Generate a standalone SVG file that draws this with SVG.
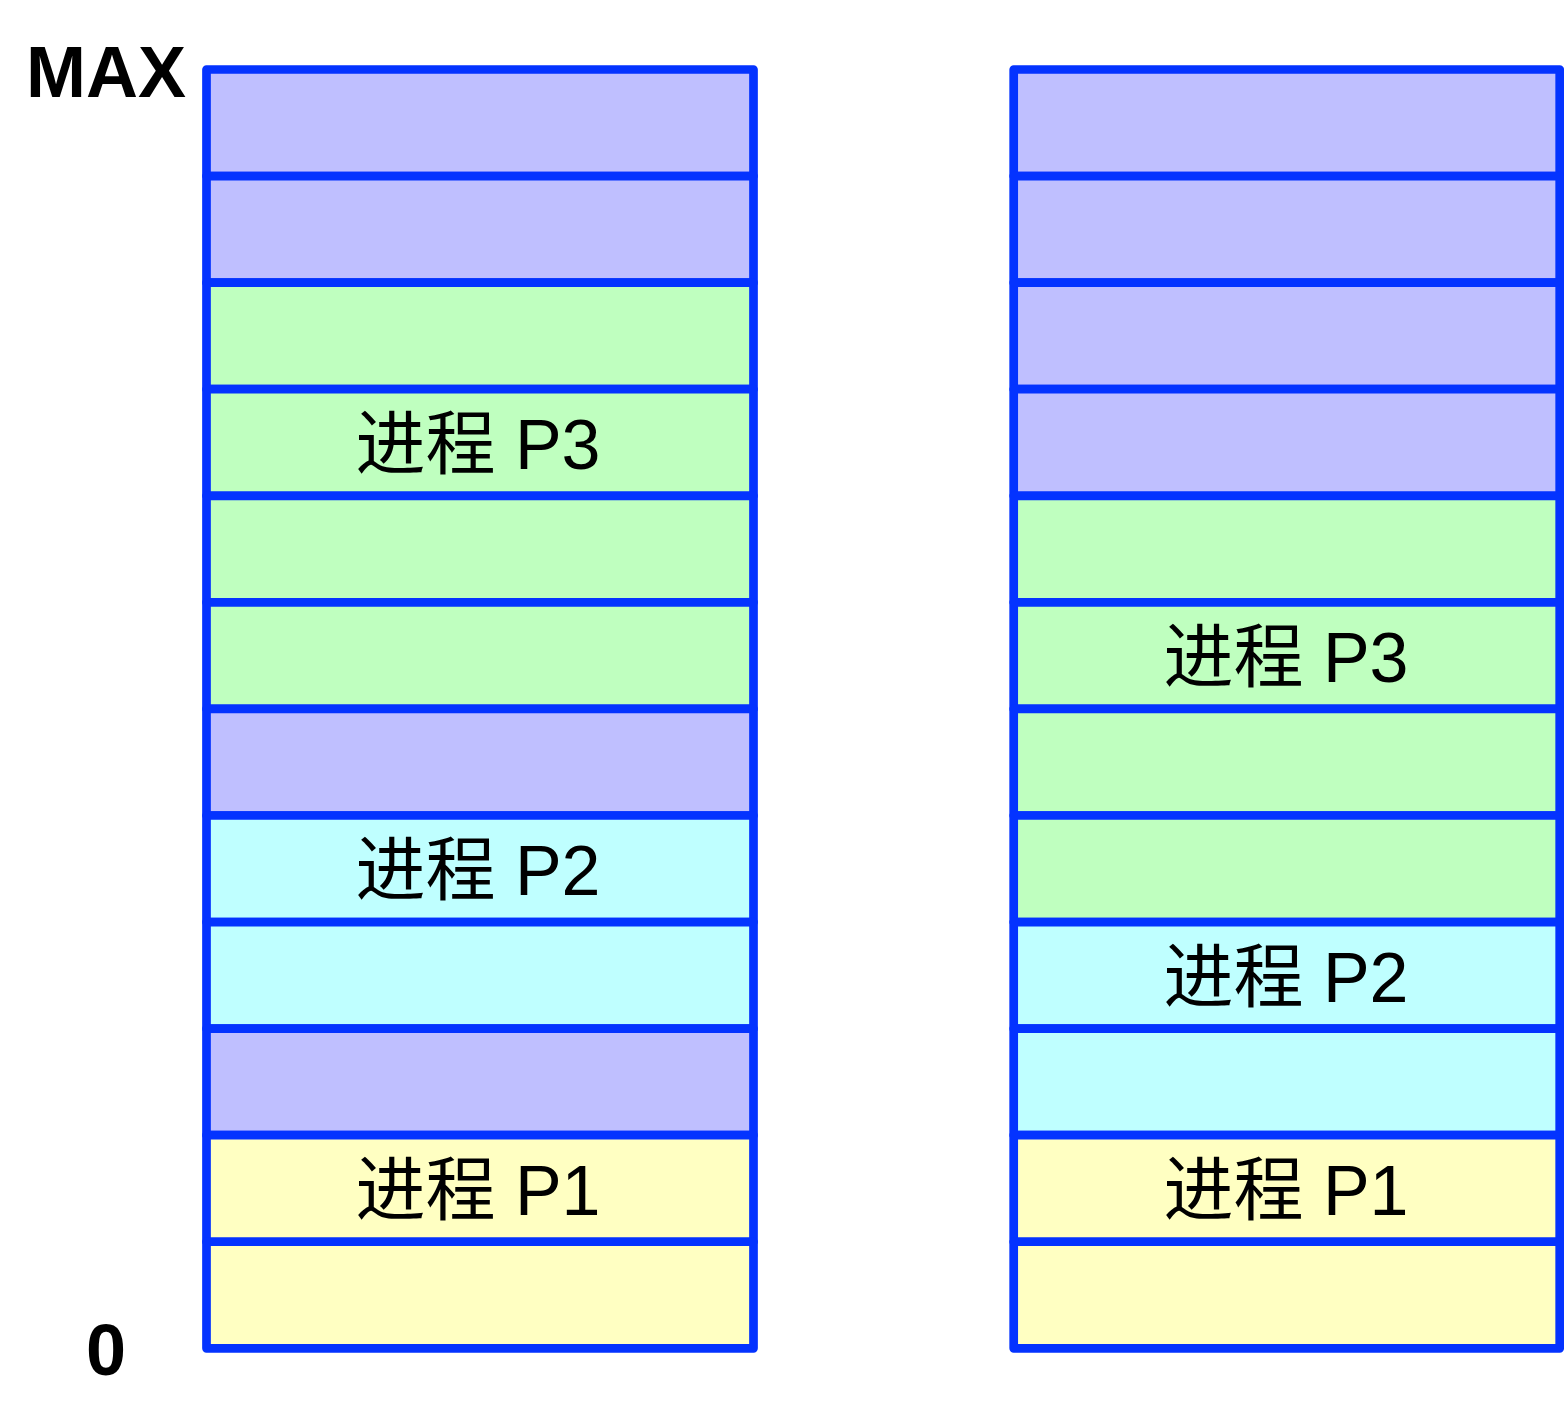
<svg xmlns="http://www.w3.org/2000/svg" width="1564" height="1413" viewBox="0 0 1564 1413">
<style>
.c{stroke:#0433FF;stroke-width:8.7;stroke-linejoin:round}
.v{fill:#BFBFFF}.g{fill:#BFFFBF}.y{fill:#FFFFC2}.k{fill:#BFFFFF}
.t{font-family:"Liberation Sans","Noto Sans CJK SC",sans-serif;font-size:70px;text-anchor:middle;fill:#000}
.b{font-family:"Liberation Sans",Arial,sans-serif;font-size:72px;font-weight:bold;fill:#000}
</style>
<rect width="1564" height="1413" fill="#fff"/>
<text class="b" x="186" y="97" text-anchor="end">MAX</text>
<text class="b" x="106" y="1375" text-anchor="middle">0</text>
<g id="left">
<g id="L1"><rect class="c v" x="206.5" y="69.5" width="547" height="106.57"/></g>
<g id="L2"><rect class="c v" x="206.5" y="176.07" width="547" height="106.57"/></g>
<g id="L3"><rect class="c g" x="206.5" y="282.64" width="547" height="106.57"/></g>
<g id="L4"><rect class="c g" x="206.5" y="389.21" width="547" height="106.57"/><text class="t" x="478" y="469">进程 P3</text></g>
<g id="L5"><rect class="c g" x="206.5" y="495.78" width="547" height="106.57"/></g>
<g id="L6"><rect class="c g" x="206.5" y="602.35" width="547" height="106.57"/></g>
<g id="L7"><rect class="c v" x="206.5" y="708.92" width="547" height="106.57"/></g>
<g id="L8"><rect class="c k" x="206.5" y="815.49" width="547" height="106.57"/><text class="t" x="478" y="895">进程 P2</text></g>
<g id="L9"><rect class="c k" x="206.5" y="922.06" width="547" height="106.57"/></g>
<g id="L10"><rect class="c v" x="206.5" y="1028.63" width="547" height="106.57"/></g>
<g id="L11"><rect class="c y" x="206.5" y="1135.2" width="547" height="106.57"/><text class="t" x="478" y="1215">进程 P1</text></g>
<g id="L12"><rect class="c y" x="206.5" y="1241.77" width="547" height="106.57"/></g>
</g>
<g id="right">
<g id="R1"><rect class="c v" x="1013.7" y="69.5" width="546" height="106.57"/></g>
<g id="R2"><rect class="c v" x="1013.7" y="176.07" width="546" height="106.57"/></g>
<g id="R3"><rect class="c v" x="1013.7" y="282.64" width="546" height="106.57"/></g>
<g id="R4"><rect class="c v" x="1013.7" y="389.21" width="546" height="106.57"/></g>
<g id="R5"><rect class="c g" x="1013.7" y="495.78" width="546" height="106.57"/></g>
<g id="R6"><rect class="c g" x="1013.7" y="602.35" width="546" height="106.57"/><text class="t" x="1286" y="682">进程 P3</text></g>
<g id="R7"><rect class="c g" x="1013.7" y="708.92" width="546" height="106.57"/></g>
<g id="R8"><rect class="c g" x="1013.7" y="815.49" width="546" height="106.57"/></g>
<g id="R9"><rect class="c k" x="1013.7" y="922.06" width="546" height="106.57"/><text class="t" x="1286" y="1002">进程 P2</text></g>
<g id="R10"><rect class="c k" x="1013.7" y="1028.63" width="546" height="106.57"/></g>
<g id="R11"><rect class="c y" x="1013.7" y="1135.2" width="546" height="106.57"/><text class="t" x="1286" y="1215">进程 P1</text></g>
<g id="R12"><rect class="c y" x="1013.7" y="1241.77" width="546" height="106.57"/></g>
</g>
<g id="connectors"/>
</svg>
